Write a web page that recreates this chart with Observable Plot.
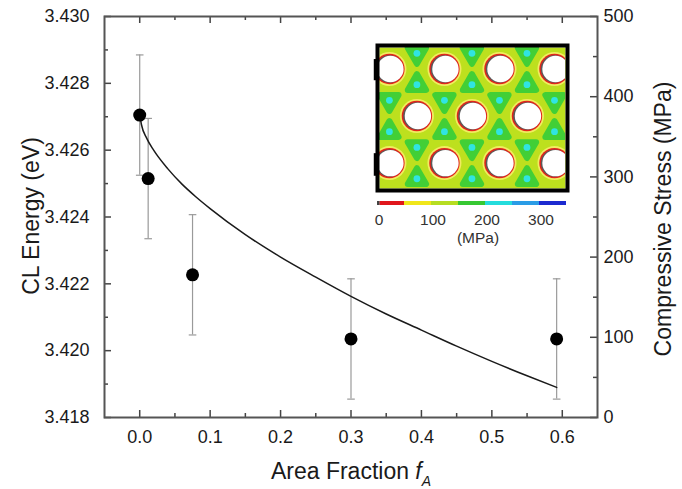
<!DOCTYPE html>
<html><head><meta charset="utf-8">
<script src="https://cdn.jsdelivr.net/npm/d3@7"></script>
<script src="https://cdn.jsdelivr.net/npm/@observablehq/plot@0.6"></script>
<style>
html,body{margin:0;padding:0;background:#fff;}
#wrap{position:relative;width:682px;height:489px;overflow:hidden;}
#wrap svg{position:absolute;overflow:visible;}
</style></head><body><div id="wrap"></div>
<script>
// ---------- main chart data ----------
const areaFraction = [0.0, 0.012, 0.075, 0.30, 0.592];
const clEnergy     = [3.42705, 3.42515, 3.42227, 3.42035, 3.42035];
const clError      = [0.0018, 0.0018, 0.0018, 0.0018, 0.0018];
// fitted compressive-stress curve (right axis, MPa)
const fitFraction = [0, 0.0025, 0.01, 0.02, 0.04, 0.06, 0.08, 0.10, 0.15, 0.20, 0.25, 0.30, 0.35, 0.40, 0.45, 0.50, 0.55, 0.592];
const fitStress   = [377.5, 365, 348, 333, 310, 291, 275, 260.5, 228, 200, 175, 151, 129, 109, 89, 70, 52, 37.5];
// axes
const energyTicks   = [3.418, 3.420, 3.422, 3.424, 3.426, 3.428, 3.430];
const energyMinor   = [3.419, 3.421, 3.423, 3.425, 3.427, 3.429];
const stressTicks   = [0, 100, 200, 300, 400, 500];
const stressMinor   = [50, 150, 250, 350, 450];
const fractionTicks = [0, 0.1, 0.2, 0.3, 0.4, 0.5, 0.6];
const fractionMinor = [0.05, 0.15, 0.25, 0.35, 0.45, 0.55];
const energyDomain = [3.418, 3.430];
const stressDomain = [0, 500];

// ---------- inset (stress map) data, lattice units ----------
const holeX = [0, 1, 2, 3, 0.5, 1.5, 2.5, 0, 1, 2, 3];
const holeY = [0, 0, 0, 0, 1, 1, 1, 2, 2, 2, 2];
const siteX = [0.5, 1.5, 2.5, 0.5, 1.5, 2.5, 0, 1, 2, 3, 0, 1, 2, 3, 0.5, 1.5, 2.5, 0.5, 1.5, 2.5];
const siteY = [-0.333, -0.333, -0.333, 0.333, 0.333, 0.333, 0.667, 0.667, 0.667, 0.667,
               1.333, 1.333, 1.333, 1.333, 1.667, 1.667, 1.667, 2.333, 2.333, 2.333];
const siteUp = [0, 0, 0, 1, 1, 1, 0, 0, 0, 0, 1, 1, 1, 1, 0, 0, 0, 1, 1, 1];
const mapXDomain = [-0.18, 3.2];
const mapYDomain = [-0.456, 2.54];
const tabTop = [-0.2, 1.8];
const tabBottom = [0.25, 2.28];
// colour bar (MPa)
const segStart = [0, 5, 50, 100, 150, 200, 250, 300];
const segEnd   = [5, 50, 100, 150, 200, 250, 300, 350];
const segColor = ["#444444", "#e0161c", "#f0e61a", "#b6dd22", "#36c832", "#24dcdc", "#2a9ce6", "#1c2ad0"];
const barTicks = [0, 100, 200, 300];

const FONT = "'Liberation Sans', Arial, Helvetica, sans-serif";
const W = 682, H = 489, mL = 104, mR = 85, mT = 16, mB = 72;
const innerW = W - mL - mR, innerH = H - mT - mB;
const toEnergy = s => energyDomain[0] + (s - stressDomain[0]) / (stressDomain[1] - stressDomain[0]) * (energyDomain[1] - energyDomain[0]);
const idx = d3.range(areaFraction.length);
const fitIdx = d3.range(fitFraction.length);
const capSymbol = {draw(ctx) { ctx.moveTo(-3.8, 0); ctx.lineTo(3.8, 0); }};
const tickStyle = {stroke: "#444", strokeWidth: 1.5};

const main = Plot.plot({
  width: W, height: H, marginLeft: mL, marginRight: mR, marginTop: mT, marginBottom: mB,
  style: {fontFamily: FONT, color: "#1a1a1a", background: "transparent"},
  x: {domain: [-0.05, 0.65], axis: null},
  y: {domain: energyDomain, axis: null},
  marks: [
    // inward ticks
    Plot.ruleX(fractionTicks, {x: d => d, insetTop: innerH - 7, ...tickStyle}),
    Plot.ruleX(fractionMinor, {x: d => d, insetTop: innerH - 4, ...tickStyle}),
    Plot.ruleX(fractionTicks, {x: d => d, insetBottom: innerH - 7, ...tickStyle}),
    Plot.ruleX(fractionMinor, {x: d => d, insetBottom: innerH - 4, ...tickStyle}),
    Plot.ruleY(energyTicks, {y: d => d, insetRight: innerW - 7, ...tickStyle}),
    Plot.ruleY(energyMinor, {y: d => d, insetRight: innerW - 4, ...tickStyle}),
    Plot.ruleY(stressTicks, {y: d => toEnergy(d), insetLeft: innerW - 7, ...tickStyle}),
    Plot.ruleY(stressMinor, {y: d => toEnergy(d), insetLeft: innerW - 4, ...tickStyle}),
    Plot.frame({stroke: "#555", strokeWidth: 2}),
    // tick labels
    Plot.text(energyTicks, {y: d => d, text: d => d.toFixed(3), frameAnchor: "left", textAnchor: "end", dx: -15, fontSize: 18}),
    Plot.text(stressTicks, {y: d => toEnergy(d), text: d => String(d), frameAnchor: "right", textAnchor: "start", dx: 6, fontSize: 18}),
    Plot.text(fractionTicks, {x: d => d, text: d => d.toFixed(1), frameAnchor: "bottom", lineAnchor: "top", dy: 13, fontSize: 18}),
    // axis titles
    Plot.text(["CL Energy (eV)"], {text: d => d, frameAnchor: "left", textAnchor: "middle", rotate: -90, dx: -73, dy: -1, fontSize: 23}),
    Plot.text(["Compressive Stress (MPa)"], {text: d => d, frameAnchor: "right", textAnchor: "middle", rotate: -90, dx: 66, dy: 2, fontSize: 23}),
    Plot.text(["Area Fraction fA"], {text: d => d, frameAnchor: "bottom", textAnchor: "middle", lineAnchor: "top", dy: 45, fontSize: 23}),
    // error bars
    Plot.ruleX(idx, {x: i => areaFraction[i], y1: i => clEnergy[i] - clError[i], y2: i => clEnergy[i] + clError[i], stroke: "#9a9a9a", strokeWidth: 1.2}),
    Plot.dot(idx, {x: i => areaFraction[i], y: i => clEnergy[i] + clError[i], symbol: capSymbol, stroke: "#9a9a9a", strokeWidth: 1.2}),
    Plot.dot(idx, {x: i => areaFraction[i], y: i => clEnergy[i] - clError[i], symbol: capSymbol, stroke: "#9a9a9a", strokeWidth: 1.2}),
    // fitted stress curve
    Plot.line(fitIdx, {x: i => fitFraction[i], y: i => toEnergy(fitStress[i]), stroke: "#1a1a1a", strokeWidth: 1.5, curve: "monotone-x"}),
    // data points
    Plot.dot(idx, {x: i => areaFraction[i], y: i => clEnergy[i], r: 6.5, fill: "#000"})
  ]
});
main.style.left = "0px"; main.style.top = "0px";
// italic f with subscript A
d3.select(main).selectAll("text").filter(function () { return this.textContent === "Area Fraction fA"; })
  .each(function () {
    const t = d3.select(this);
    t.text(null);
    t.append("tspan").text("Area Fraction ");
    t.append("tspan").attr("font-style", "italic").text("f");
    t.append("tspan").attr("font-style", "italic").attr("font-size", 14).attr("dy", 7).text("A");
  });

// ---------- inset stress map ----------
const holeIdx = d3.range(holeX.length);
const siteIdx = d3.range(siteX.length);
const tabIdx = d3.range(tabTop.length);
const hx = i => holeX[i], hy = i => holeY[i];
const map = Plot.plot({
  width: 200, height: 153, marginLeft: 7, marginRight: 7, marginTop: 6, marginBottom: 6,
  style: {background: "transparent"},
  x: {domain: mapXDomain, axis: null},
  y: {domain: mapYDomain, reverse: true, axis: null},
  marks: [
    Plot.frame({fill: "#bde01e", stroke: "none"}),
    Plot.dot(siteIdx, {x: i => siteX[i], y: i => siteY[i], symbol: "triangle", rotate: i => siteUp[i] ? 0 : 180,
      r: 6.8, fill: "#42cf36", stroke: "#42cf36", strokeWidth: 6, strokeLinejoin: "round", clip: true}),
    Plot.dot(siteIdx, {x: i => siteX[i], y: i => siteY[i], r: 3.4, fill: "#30e4e2", clip: true}),
    Plot.dot(holeIdx, {x: hx, y: hy, r: 17, fill: "#f1ec60", clip: true}),
    Plot.dot(holeIdx, {x: hx, y: hy, r: 15.2, fill: "#e1241c", clip: true}),
    Plot.dot(holeIdx, {x: hx, y: hy, r: 13.7, fill: "#5a5a5a", clip: true}),
    Plot.dot(holeIdx, {x: hx, y: hy, r: 13.2, fill: "#ffffff", dx: 1, clip: true}),
    Plot.frame({stroke: "#000", strokeWidth: 4, inset: -2}),
    Plot.rect(tabIdx, {x1: () => -0.275, x2: () => -0.18, y1: i => tabTop[i], y2: i => tabBottom[i], fill: "#000"})
  ]
});
map.style.left = "372px"; map.style.top = "41px";

// ---------- colour bar ----------
const segIdx = d3.range(segStart.length);
const bar = Plot.plot({
  width: 220, height: 52, margin: 0,
  style: {fontFamily: FONT, color: "#333", background: "transparent"},
  x: {domain: [0, 350], range: [17, 206], axis: null},
  y: {domain: [0, 1], range: [9, 5], axis: null},
  color: {type: "identity"},
  marks: [
    Plot.rect(segIdx, {x1: i => segStart[i], x2: i => segEnd[i], y1: () => 0, y2: () => 1, fill: i => segColor[i]}),
    Plot.text(barTicks, {x: d => d, y: () => 0, text: d => String(d), lineAnchor: "top", dy: 8, dx: 1.5, fontSize: 15.5}),
    Plot.text(["(MPa)"], {x: () => 175, y: () => 0, text: d => d, lineAnchor: "top", dy: 26, dx: 6, fontSize: 15.5})
  ]
});
bar.style.left = "360px"; bar.style.top = "196px";

const wrap = document.getElementById("wrap");
wrap.appendChild(main);
wrap.appendChild(map);
wrap.appendChild(bar);
</script>
</body></html>
